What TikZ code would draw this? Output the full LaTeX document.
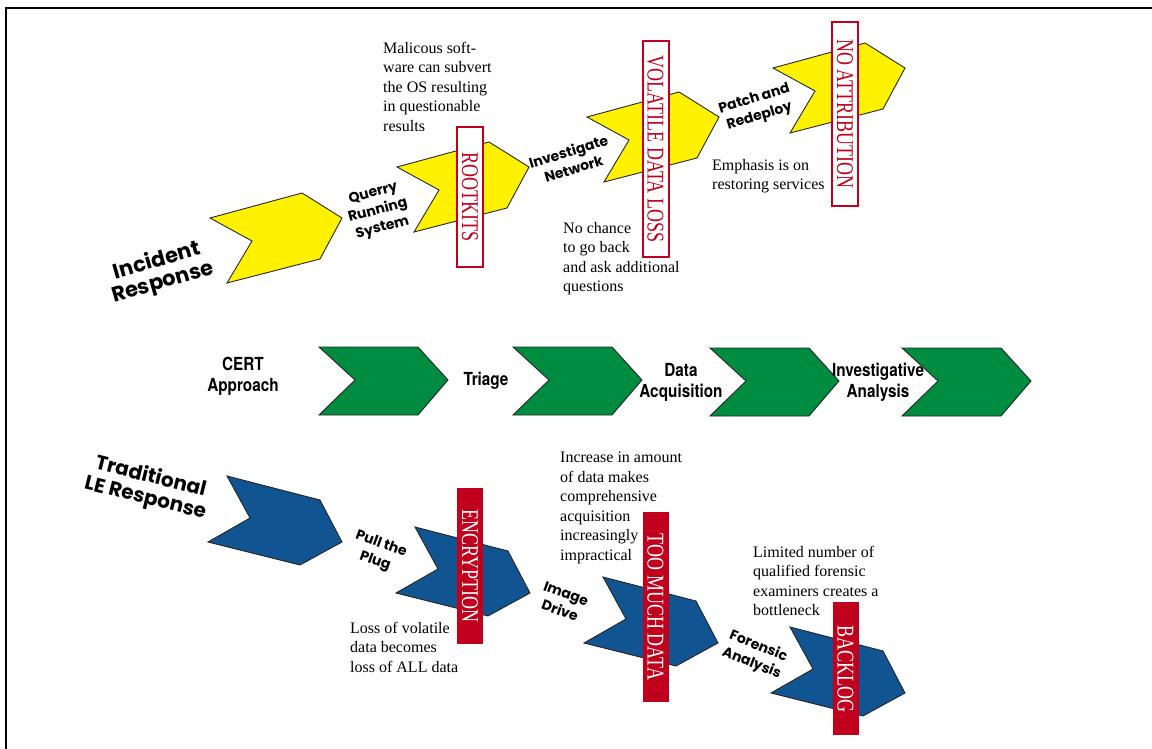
\documentclass[tikz,border=0pt]{standalone}
\usepackage{fontspec}
\setmainfont{Liberation Serif}
\newfontfamily\stepfont{Poppins}
\newfontfamily\certfont[FakeStretch=0.85]{TeX Gyre Heros}
\newfontfamily\warnfont[FakeStretch=0.75]{Liberation Serif}

\definecolor{irYellow}{RGB}{255,242,0}
\definecolor{certGreen}{RGB}{0,140,64}
\definecolor{leBlue}{RGB}{17,84,146}
\definecolor{warnRed}{RGB}{192,0,28}

\begin{document}
\begin{tikzpicture}[x=1pt,y=-1pt,
	chevron/.style={draw=black!85,line width=0.9pt,line join=miter},
	steplabel/.style={align=center,inner sep=0pt,font=\stepfont\bfseries\fontsize{14}{18}\selectfont},
	certlabel/.style={align=center,inner sep=0pt,font=\certfont\bfseries\fontsize{18}{21}\selectfont},
	outlined/.style={draw=warnRed,line width=2pt,fill=white,text=warnRed},
	filled/.style={fill=warnRed,text=white}]

	\useasboundingbox (0,0) rectangle (1152,749);
	\draw[line width=2.5pt] (6,749) -- (6,8) -- (1152,8);

	% chevrons
	\foreach \x/\y in {210/218,397/167,587/117,773/68}
		\draw[chevron,fill=irYellow] (\x,\y) -- ++(92,-25) -- ++(40,25) -- ++(-22,41) -- ++(-93,24) -- ++(25,-42) -- cycle;
	\foreach \x/\y in {319/347,513/347,710/348,902/348}
		\draw[chevron,fill=certGreen] (\x,\y) -- ++(99,0) -- ++(30,33) -- ++(-30,35) -- ++(-99,0) -- ++(36,-35) -- cycle;
	\foreach \x/\y in {227/476,415/527,603/577,790/627}
		\draw[chevron,fill=leBlue] (\x,\y) -- ++(93,24) -- ++(22,42) -- ++(-42,23) -- ++(-92,-23) -- ++(42,-24) -- cycle;

	\begin{scope}[every node/.style={rotate=-90,minimum height=26pt,inner sep=0pt,font=\warnfont\fontsize{24}{24}\selectfont}]
		\node[outlined,minimum width=139pt] (rootkits) at (470,197) {ROOTKITS};
		\node[outlined,minimum width=216pt] (volatile) at (655.5,149) {VOLATILE DATA LOSS};
		\node[outlined,minimum width=184pt] (attribution) at (845,114) {NO ATTRIBUTION};
		\node[filled,minimum width=156pt] (encryption) at (470,566) {ENCRYPTION};
		\node[filled,minimum width=190pt] (toomuch) at (655.5,607) {TOO MUCH DATA};
		\node[filled,minimum width=133pt] (backlog) at (845.5,668.5) {BACKLOG};
	\end{scope}

	\begin{scope}[every node/.style={anchor=north west,inner sep=0pt,align=left,font=\fontsize{16}{19.5}\selectfont}]
		\node (malware) at (383,42) {Malicous soft-\\ware can subvert\\the OS resulting\\in questionable\\results};
		\node (nochance) at (563,222) {No chance\\to go back\\and ask additional\\questions};
		\node (emphasis) at (712,159) {Emphasis is on\\restoring services};
		\node (lossall) at (350,622) {Loss of volatile\\data becomes\\loss of ALL data};
		\node (increase) at (560,452) {Increase in amount\\of data makes\\comprehensive\\acquisition\\increasingly\\impractical};
		\node (limited) at (753,546) {Limited number of\\qualified forensic\\examiners creates a\\bottleneck};
	\end{scope}

	% incident response
	\node[steplabel,font=\stepfont\bfseries\fontsize{21}{22}\selectfont,rotate=16] (incident) at (160,272) {Incident\\Response};
	\node[steplabel,rotate=15] (querry) at (378,211) {Querry\\Running\\System};
	\node[steplabel,rotate=17] (network) at (571,160) {Investigate\\Network};
	\node[steplabel,rotate=17] (patch) at (757,108) {Patch and\\Redeploy};

	% cert approach
	\node[certlabel] (cert) at (243,376) {CERT\\Approach};
	\node[certlabel] (triage) at (486,381) {Triage};
	\node[certlabel] (acquisition) at (681,382) {Data\\Acquisition};
	\node[certlabel] (analysis) at (878,382) {Investigative\\Analysis};

	% traditional le response
	\node[steplabel,font=\stepfont\bfseries\fontsize{20}{22}\selectfont,rotate=-14] (traditional) at (148,488) {Traditional\\LE Response};
	\node[steplabel,rotate=-20] (plug) at (378,553) {Pull the\\Plug};
	\node[steplabel,rotate=-20] (image) at (563,602) {Image\\Drive};
	\node[steplabel,rotate=-22] (forensic) at (755,655) {Forensic\\Analysis};

\end{tikzpicture}
\end{document}
